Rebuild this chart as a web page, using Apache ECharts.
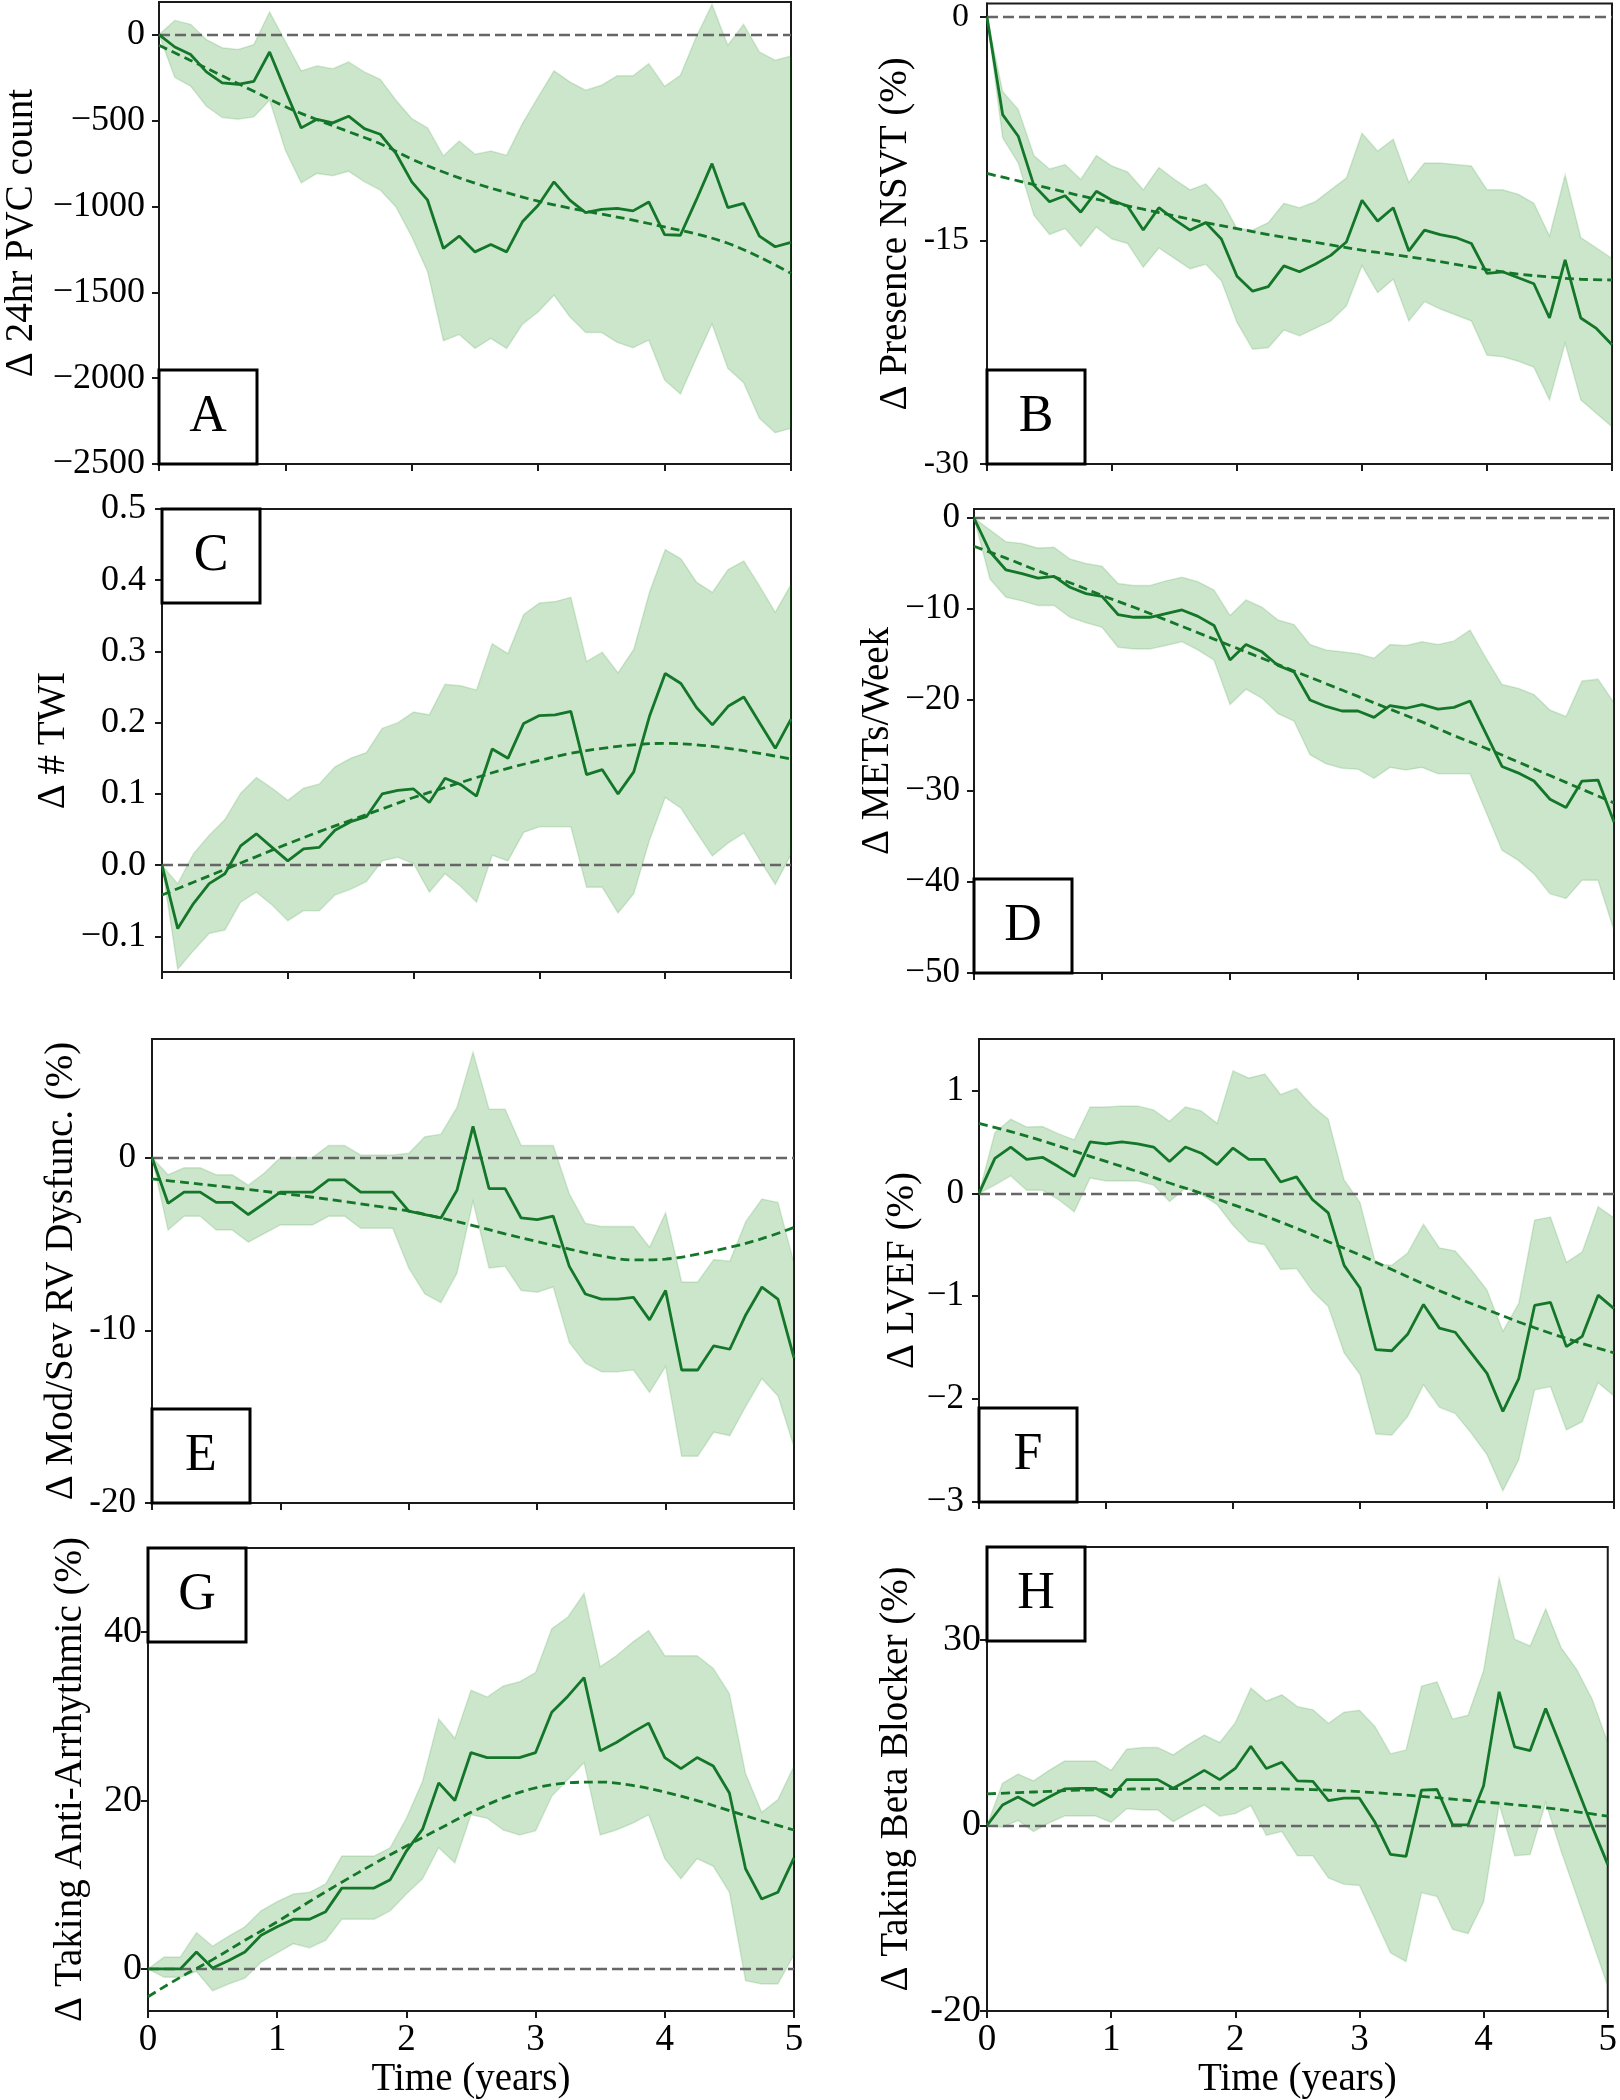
<!DOCTYPE html>
<html>
<head>
<meta charset="utf-8">
<script src="https://cdn.jsdelivr.net/npm/echarts@6/dist/echarts.min.js"></script>
<style>
html,body{margin:0;padding:0;background:#ffffff;}
#chart{width:1620px;height:2100px;}
</style>
</head>
<body>
<div id="chart"></div>
<script>
// ---------------- DATA ----------------
const time41 = [0,0.125,0.25,0.375,0.5,0.625,0.75,0.875,1,1.125,1.25,1.375,1.5,1.625,1.75,1.875,2,2.125,2.25,2.375,2.5,2.625,2.75,2.875,3,3.125,3.25,3.375,3.5,3.625,3.75,3.875,4,4.125,4.25,4.375,4.5,4.625,4.75,4.875,5];
const time21 = [0,0.25,0.5,0.75,1,1.25,1.5,1.75,2,2.25,2.5,2.75,3,3.25,3.5,3.75,4,4.25,4.5,4.75,5];

// A: 24hr PVC count
const aMean  = [0,-72,-116,-217,-281,-289,-272,-101,-325,-543,-493,-514,-475,-547,-580,-692,-857,-964,-1245,-1173,-1265,-1222,-1265,-1090,-993,-857,-964,-1036,-1018,-1012,-1026,-974,-1164,-1168,-964,-751,-1007,-983,-1173,-1235,-1210];
const aUpper = [0,83,60,-29,-76,-87,-58,132,-40,-211,-182,-198,-159,-217,-260,-382,-489,-543,-706,-619,-696,-677,-702,-518,-363,-211,-275,-324,-295,-240,-240,-169,-301,-237,-14,176,-62,60,-101,-149,-124];
const aLower = [0,-250,-300,-417,-483,-493,-479,-382,-673,-863,-808,-822,-795,-857,-905,-1003,-1177,-1381,-1782,-1746,-1827,-1769,-1827,-1687,-1614,-1517,-1643,-1734,-1734,-1792,-1823,-1779,-2011,-2093,-1885,-1685,-1943,-2027,-2234,-2318,-2292];
const aFit   = [-62,-150,-240,-330,-420,-495,-565,-635,-725,-800,-865,-920,-970,-1010,-1045,-1080,-1120,-1160,-1215,-1295,-1390];
const aTicks = [0,-500,-1000,-1500,-2000,-2500];
const aTickLabels = ['0','\u2212500','\u22121000','\u22121500','\u22122000','\u22122500'];

// B: Presence NSVT (%)
const bMean  = [0,-6.55,-8.0,-11.3,-12.4,-12.0,-13.1,-11.7,-12.3,-12.7,-14.3,-12.8,-13.6,-14.3,-13.8,-14.9,-17.4,-18.4,-18.1,-16.7,-17.1,-16.6,-16.0,-15.1,-12.3,-13.7,-12.8,-15.7,-14.3,-14.6,-14.8,-15.2,-17.2,-17.1,-17.5,-17.9,-20.2,-16.3,-20.2,-20.9,-22.0];
const bUpper = [0,-5.0,-6.2,-9.3,-10.2,-9.9,-10.9,-9.3,-10.0,-10.4,-11.6,-10.1,-10.9,-11.6,-11.2,-12.3,-14.2,-14.3,-13.8,-12.5,-12.8,-12.4,-11.6,-10.8,-7.8,-9.0,-8.2,-11.1,-9.8,-9.8,-9.9,-10.0,-11.6,-11.6,-11.9,-12.5,-14.7,-10.6,-14.8,-15.5,-16.2];
const bLower = [0,-8.1,-9.8,-13.3,-14.6,-14.2,-15.4,-14.1,-14.9,-15.2,-16.8,-15.5,-16.2,-16.9,-16.6,-17.7,-20.5,-22.3,-22.2,-21.0,-21.4,-20.9,-20.4,-19.4,-16.7,-18.5,-17.6,-20.4,-19.1,-19.6,-20.0,-20.4,-22.7,-22.8,-23.1,-23.5,-25.7,-21.9,-25.7,-26.6,-27.5];
const bFit   = [-10.5,-11.0,-11.5,-12.0,-12.45,-12.9,-13.35,-13.8,-14.2,-14.6,-14.95,-15.3,-15.65,-15.95,-16.25,-16.6,-16.95,-17.25,-17.45,-17.6,-17.65];
const bTicks = [0,-15,-30];
const bTickLabels = ['0','-15','-30'];

// C: # TWI
const cMean  = [0,-0.089,-0.054,-0.026,-0.012,0.027,0.044,0.025,0.006,0.023,0.025,0.049,0.061,0.068,0.100,0.105,0.107,0.088,0.122,0.113,0.097,0.163,0.150,0.199,0.210,0.211,0.216,0.127,0.134,0.100,0.131,0.209,0.269,0.255,0.221,0.197,0.223,0.236,0.200,0.164,0.205];
const cUpper = [0,-0.026,0.016,0.042,0.064,0.101,0.123,0.108,0.091,0.108,0.114,0.138,0.150,0.158,0.192,0.200,0.215,0.211,0.254,0.252,0.246,0.311,0.297,0.352,0.368,0.370,0.376,0.286,0.299,0.270,0.303,0.383,0.443,0.430,0.397,0.383,0.415,0.427,0.392,0.355,0.394];
const cLower = [0,-0.146,-0.120,-0.096,-0.091,-0.052,-0.038,-0.056,-0.078,-0.064,-0.064,-0.042,-0.034,-0.023,0.006,0.011,0.002,-0.038,-0.012,-0.030,-0.052,0.014,0.006,0.046,0.054,0.054,0.054,-0.031,-0.031,-0.067,-0.040,0.035,0.095,0.080,0.046,0.013,0.031,0.045,0.008,-0.027,0.015];
const cFit   = [-0.042,-0.024,-0.006,0.012,0.030,0.047,0.063,0.079,0.095,0.109,0.123,0.136,0.147,0.157,0.164,0.169,0.171,0.169,0.164,0.157,0.149];
const cTicks = [-0.1,0,0.1,0.2,0.3,0.4,0.5];
const cTickLabels = ['\u22120.1','0.0','0.1','0.2','0.3','0.4','0.5'];

// D: METs/Week
const dMean  = [0,-3.7,-5.7,-6.1,-6.6,-6.4,-7.6,-8.3,-8.6,-10.6,-10.9,-10.9,-10.5,-10.1,-10.8,-11.8,-15.6,-13.9,-14.7,-16.2,-16.9,-20.0,-20.7,-21.2,-21.2,-21.9,-20.6,-20.9,-20.5,-21.0,-20.8,-20.1,-23.7,-27.3,-28.0,-28.9,-30.9,-31.8,-28.9,-28.8,-33.4];
const dUpper = [0,-1.3,-2.6,-2.8,-3.3,-3.2,-4.5,-5.0,-5.3,-7.2,-7.4,-7.4,-6.9,-6.5,-7.0,-7.9,-10.7,-9.0,-9.8,-11.2,-11.7,-13.9,-14.5,-14.7,-14.9,-15.4,-13.9,-14.0,-13.6,-13.9,-13.5,-12.3,-15.4,-18.3,-18.7,-19.4,-21.1,-21.8,-17.9,-17.7,-20.3];
const dLower = [0,-6.7,-8.7,-9.1,-9.6,-9.6,-10.9,-11.5,-12.0,-14.2,-14.4,-14.4,-14.0,-13.6,-14.5,-15.6,-20.5,-18.8,-19.8,-21.5,-22.3,-26.0,-27.0,-27.5,-27.6,-28.6,-27.4,-27.7,-27.4,-28.1,-28.1,-28.1,-32.3,-36.5,-37.6,-39.1,-41.3,-41.8,-39.8,-39.8,-45.3];
const dFit   = [-3.1,-4.4,-5.8,-7.1,-8.5,-9.8,-11.2,-12.6,-14.0,-15.4,-16.8,-18.2,-19.6,-21.0,-22.4,-23.9,-25.3,-26.8,-28.3,-29.8,-31.3];
const dTicks = [0,-10,-20,-30,-40,-50];
const dTickLabels = ['0','\u221210','\u221220','\u221230','\u221240','\u221250'];

// E: Mod/Sev RV Dysfunc. (%)
const eMean  = [0,-2.65,-2.0,-2.0,-2.6,-2.6,-3.3,-2.65,-2.0,-2.0,-2.0,-1.3,-1.3,-2.0,-2.0,-2.0,-3.1,-3.3,-3.5,-1.9,1.8,-1.8,-1.8,-3.5,-3.6,-3.4,-6.3,-7.9,-8.2,-8.2,-8.1,-9.4,-7.7,-12.3,-12.3,-10.9,-11.1,-9.1,-7.5,-8.2,-11.6];
const eUpper = [0,-1.0,-0.6,-0.6,-1.0,-1.0,-1.6,-0.9,0,0,0,0.7,0.7,0.15,0.15,0.15,0.25,1.2,1.35,2.9,6.1,2.8,2.8,0.7,0.7,0.7,-2.1,-3.8,-4.0,-4.0,-4.0,-5.2,-3.2,-7.2,-7.2,-5.9,-6.0,-3.7,-2.4,-2.6,-6.1];
const eLower = [0,-4.2,-3.4,-3.4,-4.2,-4.2,-4.9,-4.4,-3.9,-3.9,-3.9,-3.4,-3.4,-4.1,-4.1,-4.1,-6.4,-7.9,-8.4,-6.7,-2.55,-6.4,-6.3,-7.7,-7.8,-7.5,-10.7,-11.9,-12.4,-12.4,-12.3,-13.6,-12.1,-17.3,-17.3,-15.9,-16.1,-14.4,-12.8,-13.8,-16.75];
const eFit   = [-1.24,-1.44,-1.64,-1.85,-2.07,-2.3,-2.55,-2.82,-3.1,-3.5,-3.94,-4.42,-4.87,-5.3,-5.7,-5.93,-5.88,-5.6,-5.2,-4.7,-4.05];
const eTicks = [0,-10,-20];
const eTickLabels = ['0','-10','-20'];

// F: LVEF (%)
const fMean  = [0,0.34,0.45,0.33,0.35,0.26,0.165,0.50,0.48,0.50,0.48,0.45,0.31,0.45,0.39,0.28,0.44,0.33,0.33,0.11,0.16,-0.06,-0.19,-0.70,-0.92,-1.52,-1.53,-1.37,-1.08,-1.31,-1.35,-1.55,-1.75,-2.12,-1.80,-1.09,-1.06,-1.49,-1.39,-0.99,-1.12];
const fUpper = [0,0.59,0.72,0.645,0.65,0.58,0.52,0.84,0.84,0.85,0.85,0.81,0.70,0.84,0.80,0.68,1.19,1.12,1.16,0.96,1.02,0.85,0.72,0.13,-0.09,-0.69,-0.70,-0.58,-0.30,-0.53,-0.56,-0.74,-0.94,-1.34,-1.07,-0.26,-0.23,-0.67,-0.57,-0.13,-0.24];
const fLower = [0,0.08,0.17,0.03,0.03,-0.06,-0.18,0.15,0.12,0.12,0.12,0.08,-0.08,0.05,-0.01,-0.11,-0.31,-0.47,-0.50,-0.74,-0.73,-0.95,-1.10,-1.55,-1.76,-2.34,-2.35,-2.17,-1.86,-2.08,-2.14,-2.33,-2.54,-2.89,-2.59,-1.91,-1.88,-2.30,-2.22,-1.84,-1.97];
const fFit   = [0.68,0.60,0.51,0.41,0.31,0.21,0.10,0.0,-0.11,-0.22,-0.34,-0.47,-0.60,-0.74,-0.88,-1.01,-1.13,-1.25,-1.36,-1.46,-1.55];
const fTicks = [1,0,-1,-2,-3];
const fTickLabels = ['1','0','\u22121','\u22122','\u22123'];

// G: Taking Anti-Arrhythmic (%)
const gMean  = [0,0,0,2.0,0.1,1.0,2.0,4.0,5.0,5.9,5.9,6.8,9.6,9.6,9.6,10.6,14.0,16.6,22.1,20.0,25.7,25.1,25.1,25.1,25.7,30.5,32.4,34.6,25.9,26.9,28.1,29.2,25.1,23.8,25.1,24.1,20.9,11.9,8.3,9.1,13.2];
const gUpper = [0,1.4,1.4,4.3,2.7,3.9,5.0,6.9,8.0,8.9,9.1,10.1,13.4,13.4,13.4,14.4,17.9,22.3,29.7,27.4,33.1,32.3,33.6,34.1,35.2,40.4,41.8,44.6,35.9,37.2,38.8,40.2,37.2,37.2,37.2,35.7,32.7,23.2,18.6,20.1,24.1];
const gLower = [0,-1.0,-1.0,-0.3,-2.6,-1.8,-1.1,0.8,1.9,3.0,2.5,3.4,5.9,5.9,5.9,6.9,8.9,10.7,14.4,12.6,18.3,17.9,16.5,15.9,16.4,20.5,22.5,24.5,15.9,16.5,17.3,18.3,13.1,10.7,13.1,12.2,9.1,-1.4,-1.8,-1.8,1.7];
const gFit   = [-3.3,-1.0,1.1,3.4,5.6,8.0,10.3,12.5,14.6,16.6,18.6,20.3,21.5,22.1,22.2,21.8,21.0,20.0,18.8,17.6,16.5];
const gTicks = [0,20,40];
const gTickLabels = ['0','20','40'];

// H: Taking Beta Blocker (%)
const hMean  = [0,3.3,4.6,3.2,4.6,5.9,6.0,6.0,4.6,7.4,7.4,7.4,6.0,7.4,8.9,7.4,9.2,12.8,9.2,10.2,7.2,7.1,4.0,4.4,4.4,0.5,-4.7,-5.0,5.7,5.8,0.1,0.1,6.4,21.6,12.7,12.1,18.9,12.6,6.2,-0.2,-6.3];
const hUpper = [0,6.8,8.3,7.2,8.9,10.4,10.4,10.4,8.9,12.3,12.6,12.6,11.4,13.1,14.6,13.4,16.6,22.2,20.1,21.1,19.2,18.7,16.5,18.3,18.6,16.0,11.6,12.2,22.5,23.2,17.2,17.8,25.0,40.0,30.1,29.0,35.0,28.7,25.2,20.4,13.4];
const hLower = [0,-0.3,0.8,-1.0,0.4,1.5,1.5,1.5,0.5,2.7,2.5,2.5,0.6,2.0,3.3,1.5,1.9,3.2,-1.6,-1.0,-4.9,-4.9,-8.5,-9.5,-9.7,-15.1,-20.6,-22.0,-10.9,-11.5,-16.8,-17.5,-12.4,3.4,-4.9,-4.7,3.7,-4.2,-11.4,-18.7,-26.0];
const hFit   = [5.1,5.3,5.5,5.7,5.8,5.9,5.95,6.0,6.0,5.95,5.85,5.7,5.45,5.1,4.7,4.25,3.8,3.35,2.85,2.2,1.5];
const hTicks = [30,0,-30];
const hTickLabels = ['30','0','-20'];

// ---------------- LAYOUT / STYLE ----------------
const FONT = '"Liberation Serif", "Times New Roman", serif';
const LINE_GREEN = '#137628';
const BAND_FILL = 'rgba(0,128,0,0.2)';
const BAND_EDGE = 'rgba(0,128,0,0.14)';
const SPINE = '#1a1a1a';
const BOX_W = 98, BOX_H = 94;
const TITLE_SIZE = 39;

const panels = [
  {letter:'A', grid:{left:159, top:2,    width:632, height:462}, yMin:-2500, yMax:190,  ticks:aTicks, tickLabels:aTickLabels, title:'\u0394 24hr PVC count',            nameGap:118, labelMargin:14, labelSize:36, box:'bottom', mean:aMean, upper:aUpper, lower:aLower, fit:aFit, bottom:false},
  {letter:'B', grid:{left:987, top:2,    width:625, height:462}, yMin:-30,   yMax:0.9,  ticks:bTicks, tickLabels:bTickLabels, title:'\u0394 Presence NSVT (%)',          nameGap:72,  labelMargin:18, labelSize:34, box:'bottom', mean:bMean, upper:bUpper, lower:bLower, fit:bFit, bottom:false},
  {letter:'C', grid:{left:162, top:509,  width:629, height:463}, yMin:-0.15, yMax:0.5,  ticks:cTicks, tickLabels:cTickLabels, title:'\u0394 # TWI',                      nameGap:89,  labelMargin:16, labelSize:36, box:'top',    mean:cMean, upper:cUpper, lower:cLower, fit:cFit, bottom:false},
  {letter:'D', grid:{left:974, top:509,  width:640, height:464}, yMin:-50,   yMax:1,    ticks:dTicks, tickLabels:dTickLabels, title:'\u0394 METs/Week',                  nameGap:77,  labelMargin:14, labelSize:35, box:'bottom', mean:dMean, upper:dUpper, lower:dLower, fit:dFit, bottom:false},
  {letter:'E', grid:{left:152, top:1039, width:642, height:464}, yMin:-20,   yMax:6.86, ticks:eTicks, tickLabels:eTickLabels, title:'\u0394 Mod/Sev RV Dysfunc. (%)',    nameGap:71,  labelMargin:16, labelSize:35, box:'bottom', mean:eMean, upper:eUpper, lower:eLower, fit:eFit, bottom:false},
  {letter:'F', grid:{left:979, top:1039, width:635, height:463}, yMin:-3,    yMax:1.5,  ticks:fTicks, tickLabels:fTickLabels, title:'\u0394 LVEF (%)',                   nameGap:57,  labelMargin:15, labelSize:35, box:'bottom', mean:fMean, upper:fUpper, lower:fLower, fit:fFit, bottom:false},
  {letter:'G', grid:{left:148, top:1548, width:646, height:463}, yMin:-5,    yMax:50,   ticks:gTicks, tickLabels:gTickLabels, title:'\u0394 Taking Anti-Arrhythmic (%)', nameGap:58,  labelMargin:6,  labelSize:38, box:'top',    mean:gMean, upper:gUpper, lower:gLower, fit:gFit, bottom:true},
  {letter:'H', grid:{left:987, top:1547, width:625, height:465}, yMin:-30,   yMax:45,   ticks:hTicks, tickLabels:hTickLabels, title:'\u0394 Taking Beta Blocker (%)',    nameGap:71,  labelMargin:6,  labelSize:38, box:'top',    mean:hMean, upper:hUpper, lower:hLower, fit:hFit, bottom:true}
];

const zip = (xs, ys) => xs.map((x, i) => [x, ys[i]]);

const option = {
  animation: false,
  backgroundColor: '#ffffff',
  grid: [], xAxis: [], yAxis: [], series: [], graphic: []
};

panels.forEach((p, gi) => {
  option.grid.push(Object.assign({show:true, borderColor:SPINE, borderWidth:2, backgroundColor:'rgba(0,0,0,0)', containLabel:false}, p.grid));

  option.xAxis.push({
    type:'value', gridIndex:gi, min:0, max:5, interval:1,
    axisLine:{show:true, onZero:false, lineStyle:{color:SPINE, width:2}},
    axisTick:{show:true, length:7, lineStyle:{color:SPINE, width:2}},
    axisLabel:{show:p.bottom, fontFamily:FONT, fontSize:37, color:'#000', margin:11},
    splitLine:{show:false},
    name: p.bottom ? 'Time (years)' : '',
    nameLocation:'middle', nameGap:49,
    nameTextStyle:{fontFamily:FONT, fontSize:TITLE_SIZE, color:'#000'}
  });

  const labelFor = (v) => {
    for (let k = 0; k < p.ticks.length; k++) {
      if (Math.abs(p.ticks[k] - v) < 1e-9) return p.tickLabels[k];
    }
    return '';
  };

  option.yAxis.push({
    type:'value', gridIndex:gi, min:p.yMin, max:p.yMax,
    axisLine:{show:true, onZero:false, lineStyle:{color:SPINE, width:2}},
    axisTick:{show:true, length:7, customValues:p.ticks, lineStyle:{color:SPINE, width:2}},
    axisLabel:{show:true, customValues:p.ticks, formatter:labelFor, fontFamily:FONT, fontSize:p.labelSize, color:'#000', margin:p.labelMargin},
    splitLine:{show:false},
    name:p.title, nameLocation:'middle', nameRotate:90, nameGap:p.nameGap,
    nameTextStyle:{fontFamily:FONT, fontSize:TITLE_SIZE, color:'#000'}
  });

  // confidence band (polygon drawn through the axis scales)
  const up = p.upper, lo = p.lower;
  option.series.push({
    type:'custom', xAxisIndex:gi, yAxisIndex:gi, clip:true, silent:true, z:1,
    data:[[time41[0], lo[0]]],
    renderItem: function (params, api) {
      const pts = [];
      for (let i = 0; i < time41.length; i++) pts.push(api.coord([time41[i], up[i]]));
      for (let i = time41.length - 1; i >= 0; i--) pts.push(api.coord([time41[i], lo[i]]));
      return {type:'polygon', shape:{points:pts}, style:{fill:BAND_FILL, stroke:BAND_EDGE, lineWidth:1.5}};
    }
  });

  // trend fit (dashed) + zero reference line
  option.series.push({
    type:'line', xAxisIndex:gi, yAxisIndex:gi, data:zip(time21, p.fit),
    smooth:0.35, showSymbol:false, symbol:'none', silent:true, z:3,
    lineStyle:{color:LINE_GREEN, width:2.8, type:[9,5]},
    markLine:{
      silent:true, symbol:['none','none'], label:{show:false}, z:2,
      lineStyle:{color:'#666666', width:2.4, type:[11,5]},
      data:[{yAxis:0}]
    }
  });

  // mean (solid)
  option.series.push({
    type:'line', xAxisIndex:gi, yAxisIndex:gi, data:zip(time41, p.mean),
    showSymbol:false, symbol:'none', silent:true, z:4,
    lineStyle:{color:LINE_GREEN, width:2.8}
  });

  // panel letter box
  const bx = p.grid.left;
  const by = p.box === 'top' ? p.grid.top : p.grid.top + p.grid.height - BOX_H;
  option.graphic.push({
    type:'group', x:bx, y:by, z:100,
    children:[
      {type:'rect', shape:{x:0, y:0, width:BOX_W, height:BOX_H}, style:{fill:'#ffffff', stroke:'#000000', lineWidth:3}, z:100},
      {type:'text', x:BOX_W/2, y:BOX_H/2, z:101,
       style:{text:p.letter, font:'52px ' + FONT, fill:'#000', textAlign:'center', textVerticalAlign:'middle', align:'center', verticalAlign:'middle'}}
    ]
  });
});

const chart = echarts.init(document.getElementById('chart'), null, {renderer:'canvas', width:1620, height:2100});
chart.setOption(option);
</script>
</body>
</html>
